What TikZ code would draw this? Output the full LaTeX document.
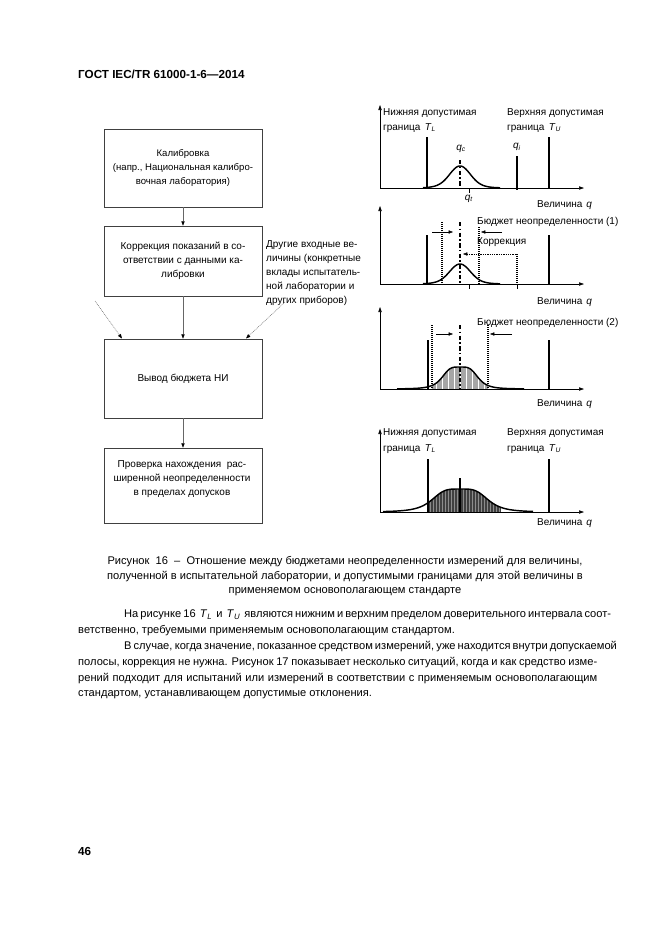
\documentclass[tikz,border=0pt]{standalone}
\usepackage{fontspec}
\setmainfont{Liberation Sans}
\usetikzlibrary{arrows.meta}
\newcommand{\tsub}[2]{\textit{#1}\textsubscript{\textit{#2}}}
\newcommand{\bodyfont}{\fontsize{10}{14.4}\selectfont}
\newcommand{\flowfont}{\fontsize{8.6}{13}\selectfont}
\newcommand{\flowfontb}{\fontsize{9}{12.6}\selectfont}
\newcommand{\plotfont}{\fontsize{9}{12}\selectfont}
\begin{document}
\begin{tikzpicture}[x=0.9pt,y=-0.9pt,
  every node/.style={inner sep=0pt},
  box/.style={draw=black!75,line width=0.5pt,minimum width=142.2pt},
  flowtext/.style={font=\flowfont,align=center},
  flowtextb/.style={font=\flowfontb,align=center},
  sidetext/.style={font=\flowfontb,align=left,anchor=west},
  flow/.style={draw=black!60,line width=0.5pt,-{Triangle[length=4pt,width=3pt,color=black]}},
  dotflow/.style={draw=black!55,line width=0.5pt,dash pattern=on 0.8pt off 0.8pt,-{Triangle[length=4pt,width=3pt,color=black]}},
  axis/.style={line width=0.5pt,-{Triangle[length=4.5pt,width=3pt]}},
  lim/.style={line width=1.6pt},
  curve/.style={line width=1.3pt},
  dotv/.style={line width=1.2pt,dash pattern=on 0.9pt off 0.9pt},
  cline/.style={line width=1.5pt,dash pattern=on 4pt off 2pt on 1.5pt off 2pt},
  thinarrow/.style={line width=0.4pt,-{Triangle[length=4pt,width=3pt]}},
  tick/.style={line width=0.4pt},
  plotlab/.style={font=\plotfont,anchor=west},
  qlab/.style={font=\fontsize{9}{10}\selectfont},
  shade3/.style={draw=black!35,line width=0.45pt},
  shade4/.style={draw=black!75,line width=0.4pt},
  body/.style={font=\bodyfont,anchor=west},
  caption/.style={font=\bodyfont}
]
\useasboundingbox (0,0) rectangle (661,935);

% header and page number
\node[font=\fontsize{10.5}{12}\selectfont\bfseries,anchor=west] (hdr) at (78,74) {ГОСТ IEC/TR 61000-1-6—2014};
\node[font=\fontsize{10.5}{12}\selectfont\bfseries,anchor=west] (pg) at (78,851) {46};

% ---------------- flowchart ----------------
\node[box,minimum height=70.2pt,flowtext] (b1) at (183,168)
  {Калибровка\\(напр., Национальная калибро-\\вочная лаборатория)};
\node[box,minimum height=63pt,flowtextb] (b2) at (183,261)
  {Коррекция показаний в со-\\ответствии с данными ка-\\либровки};
\node[box,minimum height=71.1pt,flowtextb] (b3) at (183,378.5) {Вывод бюджета НИ};
\node[box,minimum height=67.5pt] (b4) at (183,485.5) {};
\node[flowtextb] (t4) at (182,479)
  {Проверка нахождения\ \ рас-\\ширенной неопределенности\\в пределах допусков};
\node[sidetext] (side) at (266,273)
  {Другие входные ве-\\личины (конкретные\\вклады испытатель-\\ной лаборатории и\\других приборов)};

\draw[flow] (b1.south) -- (b2.north);
\draw[flow] (b2.south) -- (b3.north);
\draw[flow] (b3.south) -- (b4.north);
\coordinate (d1s) at (95,301);
\coordinate (d1e) at (122,338.5);
\coordinate (d2s) at (285,302);
\coordinate (d2e) at (246,338.5);
\draw[dotflow] (d1s) -- (d1e);
\draw[dotflow] (d2s) -- (d2e);

% ---------------- panel 1 ----------------
\draw[axis] (380,188) -- (584,188);
\draw[axis] (380,188) -- (380,105);
\draw[lim] (427,137) -- (427,188);
\draw[lim] (549,137) -- (549,188);
\draw[curve] plot[domain=423:500,samples=90,smooth]
  (\x,{188-22/(1+((\x-460)/15)^2+((\x-460)/15)^4/2+((\x-460)/15)^6/6)});
\draw[cline] (460,160) -- (460,188);
\draw[line width=1.3pt] (517,156) -- (517,190);
\draw[tick] (469,188) -- (469,193);
\node[qlab] (qc) at (461,149) {\tsub{q}{c}};
\node[qlab] (qi) at (517,147) {\tsub{q}{i}};
\node[qlab] (qt) at (469,199) {\tsub{q}{t}};
\node[plotlab] (l1a) at (383,113) {Нижняя допустимая};
\node[plotlab] (l1b) at (383,128) {граница\hspace{0.45em}\tsub{T}{L}};
\node[plotlab] (r1a) at (507,113) {Верхняя допустимая};
\node[plotlab] (r1b) at (507,128) {граница\hspace{0.45em}\tsub{T}{U}};
\node[plotlab] (v1) at (537,205) {Величина\hspace{0.4em}\textit{q}};

% ---------------- panel 2 ----------------
\draw[axis] (380,284) -- (584,284);
\draw[axis] (380,284) -- (380,206);
\draw[lim] (427,235) -- (427,284);
\draw[lim] (549,235) -- (549,284);
\draw[curve] plot[domain=423:500,samples=90,smooth]
  (\x,{284-20/(1+((\x-460)/15)^2+((\x-460)/15)^4/2+((\x-460)/15)^6/6)});
\draw[dotv] (442,222) -- (442,284);
\draw[dotv] (479,227) -- (479,284);
\draw[cline] (460,222) -- (460,284);
\draw[thinarrow] (432,232) -- (453,232);
\draw[thinarrow] (502,232) -- (481,232);
\draw[dotv] (517,254) -- (517,284);
\draw[line width=0.4pt,dash pattern=on 0.8pt off 0.8pt,-{Triangle[length=4pt,width=3pt]}] (516,254) -- (463,254);
\draw[tick] (469,284) -- (469,289);
\draw[tick] (517,284) -- (517,289);
\node[plotlab] (bu1) at (477,222) {Бюджет неопределенности (1)};
\node[plotlab] (kor) at (477,242) {Коррекция};
\node[plotlab] (v2) at (537,302) {Величина\hspace{0.4em}\textit{q}};

% ---------------- panel 3 ----------------
\foreach \xx in {432,433.2,...,488}
  \draw[shade3] (\xx,389) -- (\xx,{389-22/(1+((\xx-460)/18.5)^4)});
\draw[axis] (380,389) -- (584,389);
\draw[axis] (380,389) -- (380,307);
\draw[lim] (428,340) -- (428,389);
\draw[lim] (549,340) -- (549,389);
\draw[curve] plot[domain=397:524,samples=120,smooth]
  (\x,{389-22/(1+((\x-460)/18.5)^4)});
\draw[dotv] (432,325) -- (432,389);
\draw[dotv] (488,325) -- (488,389);
\draw[cline] (460,325) -- (460,389);
\draw[thinarrow] (436,334) -- (453,334);
\draw[thinarrow] (512,334) -- (490,334);
\node[plotlab] (bu2) at (477,323) {Бюджет неопределенности (2)};
\node[plotlab] (v3) at (537,404) {Величина\hspace{0.4em}\textit{q}};

% ---------------- panel 4 ----------------
\fill[black!45] (428,512) -- plot[domain=428:500,samples=60] (\x,{512-23/(1+((\x-460)/29)^4)}) -- (500,512) -- cycle;
\foreach \xx in {428,429.5,...,500}
  \draw[shade4] (\xx,512) -- (\xx,{512-23/(1+((\xx-460)/29)^4)});
\draw[axis] (380,512) -- (584,512);
\draw[axis] (380,512) -- (380,429);
\draw[lim] (428,459) -- (428,512);
\draw[lim] (549,459) -- (549,512);
\draw[curve] plot[domain=383:533,samples=120,smooth]
  (\x,{512-23/(1+((\x-460)/29)^4)});
\draw[lim] (460,478) -- (460,512);
\node[plotlab] (l4a) at (383,433) {Нижняя допустимая};
\node[plotlab] (l4b) at (383,449) {граница\hspace{0.45em}\tsub{T}{L}};
\node[plotlab] (r4a) at (507,433) {Верхняя допустимая};
\node[plotlab] (r4b) at (507,449) {граница\hspace{0.45em}\tsub{T}{U}};
\node[plotlab] (v4) at (537,523) {Величина\hspace{0.4em}\textit{q}};

% ---------------- caption ----------------
\node[caption] (c1) at (345,562) {Рисунок\ \ 16\ \ –\ \ Отношение между бюджетами неопределенности измерений для величины,};
\node[caption] (c2) at (345,577) {полученной в испытательной лаборатории, и допустимыми границами для этой величины в};
\node[caption] (c3) at (345,592) {применяемом основополагающем стандарте};

% ---------------- body text ----------------
\node[body] (p1) at (124,615) {\makebox[425.7pt][s]{На рисунке 16\ \ \tsub{T}{L}\ \ и\ \ \tsub{T}{U}\ \ являются нижним и верхним пределом доверительного интервала соот-}};
\node[body] (p2) at (78,631) {ветственно, требуемыми применяемым основополагающим стандартом.};
\node[body] (p3) at (124,647) {\makebox[425.7pt][s]{В случае, когда значение, показанное средством измерений, уже находится внутри допускаемой}};
\node[body] (p4) at (78,663) {\makebox[467.1pt][s]{полосы, коррекция не нужна. Рисунок 17 показывает несколько ситуаций, когда и как средство изме-}};
\node[body] (p5) at (78,679) {\makebox[467.1pt][s]{рений подходит для испытаний или измерений в соответствии с применяемым основополагающим}};
\node[body] (p6) at (78,695) {стандартом, устанавливающем допустимые отклонения.};
\end{tikzpicture}
\end{document}
